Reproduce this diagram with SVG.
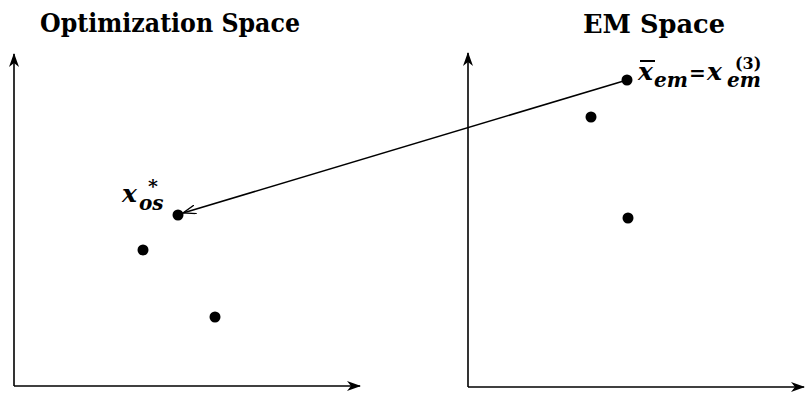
<svg xmlns="http://www.w3.org/2000/svg" width="805" height="393" viewBox="0 0 805 393">
<style>
.ax{stroke:#000;stroke-width:1.6;fill:none}
.t{font-family:'DejaVu Serif','Liberation Serif',serif;font-weight:bold;fill:#000}
.m{font-family:'DejaVu Serif','Liberation Serif',serif;font-weight:bold;font-style:italic;fill:#000}
.dot{fill:#000}
</style>
<defs>
<marker id="ah" markerWidth="14" markerHeight="10" refX="13" refY="5" orient="auto" markerUnits="userSpaceOnUse">
<path d="M0,0 L14,5 L0,10 L4,5 Z" fill="#000"/>
</marker>
<marker id="oh" markerWidth="14" markerHeight="10" refX="13" refY="5" orient="auto" markerUnits="userSpaceOnUse">
<path d="M0,0.5 L13,5 L0,9.5" fill="none" stroke="#000" stroke-width="1.3"/>
</marker>
</defs>
<g id="left-space">
<text class="t" x="40" y="32" font-size="26" textLength="260" lengthAdjust="spacingAndGlyphs">Optimization Space</text>
<path class="ax" d="M14,386 L14,54" marker-end="url(#ah)"/>
<path class="ax" d="M14,386 L360,386" marker-end="url(#ah)"/>
</g>
<g id="right-space">
<text class="t" x="583" y="33" font-size="26" textLength="142" lengthAdjust="spacingAndGlyphs">EM Space</text>
<path class="ax" d="M468,387 L468,53" marker-end="url(#ah)"/>
<path class="ax" d="M468,387 L804,387" marker-end="url(#ah)"/>
</g>
<g id="p-os">
<circle class="dot" cx="178" cy="215" r="5.5"/>
<text class="m" x="122" y="202" font-size="25">x<tspan x="139" font-size="20" dy="8">os</tspan><tspan x="148" dy="-17" font-size="19">*</tspan></text>
</g>
<g id="p-left1"><circle class="dot" cx="143" cy="250" r="5.5"/></g>
<g id="p-left2"><circle class="dot" cx="215" cy="317" r="5.5"/></g>
<g id="p-em">
<circle class="dot" cx="627" cy="80" r="5.5"/>
<line x1="640" y1="61" x2="655" y2="61" stroke="#000" stroke-width="2"/>
<text class="m" x="638" y="80" font-size="25">x<tspan x="654" font-size="20" dy="7">em</tspan><tspan font-style="normal" x="689" dy="-7" font-size="20">=</tspan><tspan x="707" font-size="25" font-style="italic">x</tspan><tspan x="727" font-size="20" dy="7">em</tspan><tspan x="735" dy="-18" font-size="16" font-style="normal">(3)</tspan></text>
</g>
<g id="p-right1"><circle class="dot" cx="591" cy="117" r="5.5"/></g>
<g id="p-right2"><circle class="dot" cx="628" cy="218" r="5.5"/></g>
<g id="connectors">
<line x1="627" y1="80" x2="183" y2="213" stroke="#000" stroke-width="1.5" marker-end="url(#oh)"/>
</g>
</svg>
